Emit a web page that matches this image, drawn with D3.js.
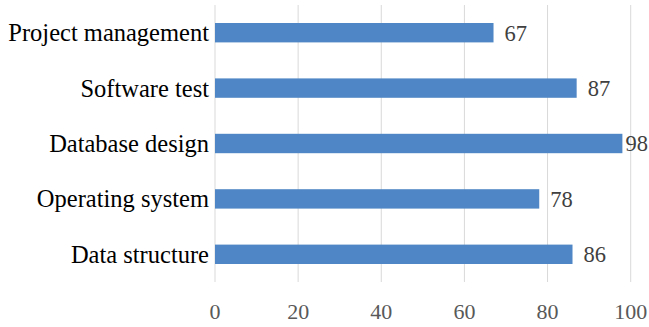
<!DOCTYPE html>
<html><head><meta charset="utf-8">
<script src="https://cdn.jsdelivr.net/npm/d3@7"></script>
<style>html,body{margin:0;padding:0;background:#fff;}</style>
</head><body>
<svg id="c" width="649" height="327"></svg>
<script>
const categories = ["Project management","Software test","Database design","Operating system","Data structure"];
const values = [67, 87, 98, 78, 86];
const tickValues = [0, 20, 40, 60, 80, 100];

const W = 649, H = 327;
const m = {left: 215, right: 18.3, top: 5, bottom: 45};
const svg = d3.select("#c");
const font = "'Liberation Serif','Times New Roman',serif";

const x = d3.scaleLinear().domain([0, 100]).range([m.left, W - m.right]);
const y = d3.scaleBand().domain(categories).range([m.top, H - m.bottom]).paddingInner(0.65).paddingOuter(0.325);

svg.append("g").selectAll("line").data(tickValues).join("line")
  .attr("x1", d => x(d)).attr("x2", d => x(d))
  .attr("y1", m.top).attr("y2", H - m.bottom)
  .attr("stroke", "#d9d9d9").attr("stroke-width", 1);

svg.append("g").selectAll("rect").data(values).join("rect")
  .attr("x", x(0)).attr("y", (d, i) => y(categories[i]))
  .attr("width", d => x(d) - x(0)).attr("height", y.bandwidth())
  .attr("fill", "#4f86c5");

svg.append("g").selectAll("text").data(categories).join("text")
  .attr("x", x(0) - 6).attr("y", d => y(d) + y.bandwidth() / 2)
  .attr("dy", "0.35em").attr("text-anchor", "end")
  .attr("font-family", font).attr("font-size", 24.5).attr("fill", "#000")
  .text(d => d);

svg.append("g").selectAll("text").data(values).join("text")
  .attr("y", (d, i) => y(categories[i]) + y.bandwidth() / 2)
  .attr("dy", "0.35em")
  .attr("font-family", font).attr("font-size", 22.5).attr("fill", "#404040")
  .text(d => d)
  .attr("x", function(d) {
    const w = this.getComputedTextLength();
    return Math.min(x(d) + 11, W - w - 1);
  });

svg.append("g").selectAll("text").data(tickValues).join("text")
  .attr("x", d => x(d)).attr("y", 319)
  .attr("text-anchor", "middle")
  .attr("font-family", font).attr("font-size", 22).attr("fill", "#595959")
  .text(d => d);
</script>
</body></html>
